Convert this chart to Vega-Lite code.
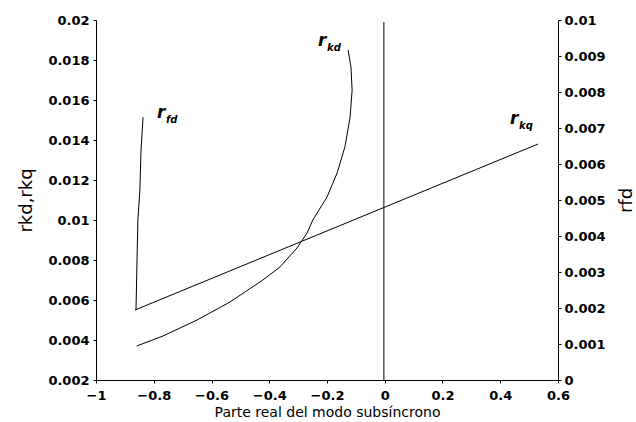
{
  "$schema": "https://vega.github.io/schema/vega-lite/v6.json",
  "autosize": {"type": "none"},
  "width": 462,
  "height": 360,
  "padding": {"left": 96, "top": 20, "right": 78, "bottom": 42},
  "background": "white",
  "config": {
    "view": {"stroke": null},
    "axis": {"grid": false, "domainColor": "black", "tickColor": "black", "labelColor": "black", "titleColor": "black", "labelFont": "DejaVu Sans", "titleFont": "DejaVu Sans", "labelFontWeight": "bold", "labelFontSize": 13, "titleFontWeight": "normal", "tickSize": 3, "labelPadding": 4, "labelOverlap": false, "labelBound": false, "labelFlush": false}
  },
  "datasets": {
    "left": [
      {"series": "rkd", "i": 1, "x": -0.859, "y": 0.0037},
      {"series": "rkd", "i": 2, "x": -0.768, "y": 0.0042},
      {"series": "rkd", "i": 3, "x": -0.650, "y": 0.0050},
      {"series": "rkd", "i": 4, "x": -0.536, "y": 0.0059},
      {"series": "rkd", "i": 5, "x": -0.422, "y": 0.0070},
      {"series": "rkd", "i": 6, "x": -0.363, "y": 0.00765},
      {"series": "rkd", "i": 7, "x": -0.304, "y": 0.0086},
      {"series": "rkd", "i": 8, "x": -0.269, "y": 0.00935},
      {"series": "rkd", "i": 9, "x": -0.249, "y": 0.0100},
      {"series": "rkd", "i": 10, "x": -0.200, "y": 0.01115},
      {"series": "rkd", "i": 11, "x": -0.165, "y": 0.01235},
      {"series": "rkd", "i": 12, "x": -0.138, "y": 0.01365},
      {"series": "rkd", "i": 13, "x": -0.120, "y": 0.01515},
      {"series": "rkd", "i": 14, "x": -0.113, "y": 0.0165},
      {"series": "rkd", "i": 15, "x": -0.117, "y": 0.01765},
      {"series": "rkd", "i": 16, "x": -0.127, "y": 0.0185},
      {"series": "rkq", "i": 1, "x": -0.865, "y": 0.0055},
      {"series": "rkq", "i": 2, "x": 0.531, "y": 0.0138},
      {"series": "zero", "i": 1, "x": -0.003, "y": 0.002},
      {"series": "zero", "i": 2, "x": -0.003, "y": 0.0199}
    ],
    "right": [
      {"i": 1, "x": -0.8615, "rfd": 0.00194},
      {"i": 2, "x": -0.858, "rfd": 0.00333},
      {"i": 3, "x": -0.855, "rfd": 0.00444},
      {"i": 4, "x": -0.848, "rfd": 0.00528},
      {"i": 5, "x": -0.844, "rfd": 0.00639},
      {"i": 6, "x": -0.837, "rfd": 0.0073}
    ],
    "labels": [
      {"x": -0.789, "y": 0.0151, "main": "r", "sub": "fd"},
      {"x": -0.231, "y": 0.0187, "main": "r", "sub": "kd"},
      {"x": 0.434, "y": 0.0148, "main": "r", "sub": "kq"}
    ]
  },
  "layer": [
    {
      "encoding": {
        "x": {"field": "x", "type": "quantitative", "scale": {"domain": [-1, 0.6], "nice": false}, "axis": {"title": "Parte real del modo subsíncrono", "titleFontSize": 14, "values": [-1, -0.8, -0.6, -0.4, -0.2, 0, 0.2, 0.4, 0.6], "format": "~g", "titlePadding": 3, "labelPadding": 6, "labelOverlap": false}},
        "y": {"field": "y", "type": "quantitative", "scale": {"domain": [0.002, 0.02], "nice": false}, "axis": {"title": "rkd,rkq", "titleFontSize": 18, "values": [0.002, 0.004, 0.006, 0.008, 0.01, 0.012, 0.014, 0.016, 0.018, 0.02], "tickCount": 10, "format": "~g", "titlePadding": 12, "labelOverlap": false, "labelBound": false}}
      },
      "layer": [
        {
          "data": {"name": "left"},
          "mark": {"type": "line", "color": "black", "strokeWidth": 1, "clip": true},
          "encoding": {
            "detail": {"field": "series"},
            "order": {"field": "i"}
          }
        },
        {
          "data": {"name": "labels"},
          "mark": {"type": "text", "font": "DejaVu Sans", "fontStyle": "italic", "fontWeight": "bold", "fontSize": 17, "align": "left", "baseline": "alphabetic", "color": "black"},
          "encoding": {
            "text": {"field": "main"}
          }
        },
        {
          "data": {"name": "labels"},
          "mark": {"type": "text", "font": "DejaVu Sans", "fontStyle": "italic", "fontWeight": "bold", "fontSize": 10, "align": "left", "baseline": "alphabetic", "dx": 9, "dy": 5, "color": "black"},
          "encoding": {
            "text": {"field": "sub"}
          }
        }
      ]
    },
    {
      "data": {"name": "right"},
      "mark": {"type": "line", "color": "black", "strokeWidth": 1},
      "encoding": {
        "x": {"field": "x", "type": "quantitative"},
        "y": {"field": "rfd", "type": "quantitative", "scale": {"domain": [0, 0.01], "nice": false}, "axis": {"title": "rfd", "orient": "right", "titleFontSize": 18, "titleAngle": 270, "titleBaseline": "top", "values": [0, 0.001, 0.002, 0.003, 0.004, 0.005, 0.006, 0.007, 0.008, 0.009, 0.01], "format": "~g", "titlePadding": 12, "labelPadding": 3, "labelOverlap": false}},
        "order": {"field": "i"}
      }
    }
  ],
  "resolve": {"scale": {"y": "independent"}}
}
